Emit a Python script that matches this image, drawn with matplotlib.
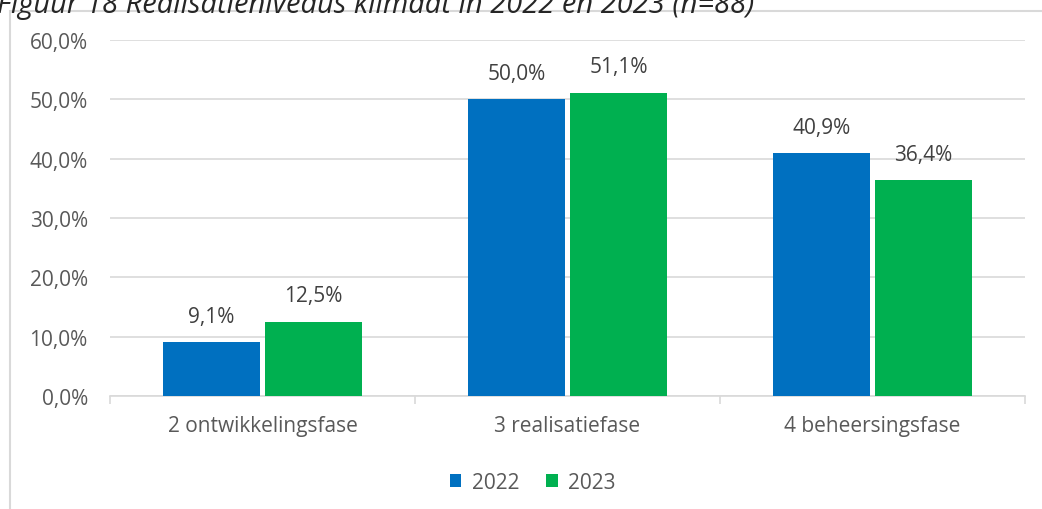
import matplotlib.pyplot as plt
import numpy as np
from matplotlib.patches import Rectangle

categories = ["2 ontwikkelingsfase", "3 realisatiefase", "4 beheersingsfase"]
values_2022 = [9.1, 50.0, 40.9]
values_2023 = [12.5, 51.1, 36.4]
years = ["2022", "2023"]
yticks = [0, 10, 20, 30, 40, 50, 60]

blue = "#0070C0"
green = "#00B050"
txt = "#595959"

plt.rcParams["font.family"] = ["Open Sans", "DejaVu Sans"]

fig = plt.figure(figsize=(10.42, 5.10), dpi=100)
ax = fig.add_axes([110 / 1042, 1 - 397 / 510, 915 / 1042, 356 / 510])

# chart frame (partly outside the picture)
fig.patches.append(Rectangle((10 / 1042, -0.1), 1.2, 1 - 12 / 510 + 0.1,
                             transform=fig.transFigure, fill=False,
                             edgecolor="#D9D9D9", linewidth=1.5))
fig.text(-0.003, 1 - 5 / 510, "Figuur 18 Realisatieniveaus klimaat in 2022 en 2023 (n=88)",
         ha="left", va="center", fontsize=21, style="italic", color="#262626")

x = np.arange(len(categories))
w = 0.318
b1 = ax.bar(x - w / 2 - 0.008, values_2022, w, color=blue, label=years[0], zorder=3)
b2 = ax.bar(x + w / 2 + 0.008, values_2023, w, color=green, label=years[1], zorder=3)

for bars in (b1, b2):
    for r in bars:
        ax.text(r.get_x() + r.get_width() / 2, r.get_height() + 2.6,
                f"{r.get_height():.1f}%".replace(".", ","),
                ha="center", va="bottom", fontsize=15, color="#404040")

ax.set_xlim(-0.5, 2.5)
ax.set_ylim(0, 60)
ax.set_yticks(yticks)
ax.set_yticklabels([f"{v:.1f}%".replace(".", ",") for v in yticks], fontsize=15, color=txt)
ax.set_xticks(x)
ax.set_xticklabels(categories, fontsize=15, color=txt)
ax.set_xticks([-0.5, 0.5, 1.5, 2.5], minor=True)
ax.tick_params(axis="y", length=0, pad=16)
ax.tick_params(axis="x", which="major", length=0, pad=14)
ax.tick_params(axis="x", which="minor", length=6, color="#D9D9D9", width=1.2)
ax.grid(axis="y", color="#D9D9D9", linewidth=1.2, zorder=0)
for s in ["top", "right", "left"]:
    ax.spines[s].set_visible(False)
ax.spines["bottom"].set_color("#D9D9D9")
ax.spines["bottom"].set_linewidth(1.2)

leg = ax.legend(loc="upper center", bbox_to_anchor=(0.462, -0.16), ncol=2, frameon=False,
                fontsize=15, handlelength=0.55, handleheight=0.55, columnspacing=1.3,
                handletextpad=0.5)
for t in leg.get_texts():
    t.set_color(txt)

fig.savefig("out.png", dpi=100)
